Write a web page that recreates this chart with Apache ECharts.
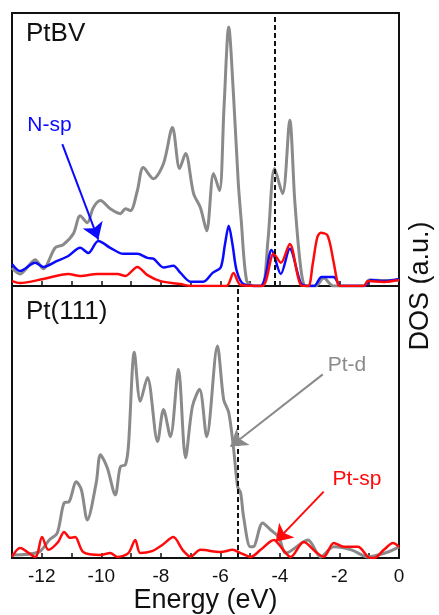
<!DOCTYPE html>
<html>
<head>
<meta charset="utf-8">
<script src="https://cdn.jsdelivr.net/npm/echarts@6/dist/echarts.min.js"></script>
<style>
  html, body { margin: 0; padding: 0; background: #fff; }
  #main { width: 439px; height: 615px; }
</style>
</head>
<body>
<div id="main"></div>
<script>
// PtBV panel: Pt-d (gray), N-sp (blue), Pt-sp (red)
var ptbvDE = [-13, -12.73, -12.22, -11.95, -11.55, -11.28, -10.94, -10.71, -10.47, -10.27, -10.03, -9.7, -9.36, -9.19, -9.02, -8.79, -8.59, -8.25, -7.91, -7.61, -7.37, -7.17, -6.9, -6.67, -6.46, -6.23, -6.03, -5.88, -5.72, -5.56, -5.4, -5.3, -5.12, -4.9, -4.6, -4.4, -4.18, -3.91, -3.67, -3.5, -3.3, -3.13, -2.8, -2.53, -2.2, -1.2, -1.0, -0.5, 0];
var ptbvD = [6.6, 4.4, 9.6, 6.3, 14.0, 15.1, 19.1, 25.7, 23.2, 28.7, 31.3, 28.3, 26.5, 28.3, 27.6, 34.9, 43.4, 39.3, 44.9, 58.1, 43.0, 48.5, 33.8, 28.7, 20.2, 41.2, 34.9, 65, 94.9, 70, 38, 24, 2, 0, 0, 17, 43.0, 33.8, 60.7, 31, 6.6, 0, 0, 2.9, 0, 0, 2.2, 2, 2.2];

var ptbvNE = [-13, -12.73, -12.22, -11.95, -11.48, -11.11, -10.71, -10.44, -10.1, -9.7, -9.26, -8.79, -8.45, -8.25, -7.91, -7.58, -7.34, -7.0, -6.57, -6.26, -5.99, -5.85, -5.72, -5.59, -5.45, -5.22, -4.65, -4.5, -4.28, -3.97, -3.67, -3.3, -3.1, -2.85, -2.6, -2.2, -1.95, -1.18, -0.94, -0.5, 0];
var ptbvN = [8.1, 5.5, 8.5, 7.0, 9.2, 11.0, 14.0, 12.1, 16.5, 14.0, 11.8, 11.8, 10.3, 10, 6.8, 7.4, 4.8, 1.6, 1.6, 4.8, 6.8, 15, 22.1, 15, 5.5, 0.7, 0, 3, 13.2, 4.4, 13.6, 1.1, 0, 0, 3.3, 3.3, 0, 0, 2.2, 1.8, 2.6];

var ptbvSE = [-13, -12.73, -11.95, -11.11, -10.71, -10.13, -9.46, -9.19, -8.79, -8.45, -8.01, -7.34, -7.0, -5.8, -5.56, -5.32, -4.6, -4.21, -3.97, -3.67, -3.3, -3.05, -2.9, -2.75, -2.63, -2.4, -2.2, -2.05, -1.95, -1.18, -1.04, -0.5, 0];
var ptbvS = [1.8, 1.1, 2.6, 4.4, 3.7, 4.4, 4.4, 3.7, 7.0, 4.0, 1.8, 0.7, 0, 0, 4.8, 0.4, 0, 11.8, 8.5, 15.4, 0.4, 0, 8, 17.6, 19.5, 18.5, 9, 0.7, 0, 0, 1.8, 1.5, 2.2];

// Pt(111) panel: Pt-d (gray), Pt-sp (red)
var ptDE = [-13, -12.1, -11.75, -11.48, -11.25, -11.08, -10.84, -10.67, -10.47, -10.17, -10.03, -9.8, -9.53, -9.36, -9.19, -9.09, -8.89, -8.69, -8.45, -8.11, -7.91, -7.68, -7.41, -7.17, -6.94, -6.7, -6.46, -6.1, -5.89, -5.72, -5.56, -5.42, -5.32, -5.22, -5.0, -4.9, -4.58, -4.31, -4.04, -3.8, -3.06, -2.63, -2.19, -1.6, -1.04, -0.37, 0];
var ptD = [1.1, 2.2, 6.6, 9.2, 20.3, 20.7, 28.0, 25.1, 14.0, 27.7, 38.0, 33.2, 23.2, 33.6, 34.3, 41.0, 75.6, 57.6, 66.4, 42.8, 54.6, 44.6, 69.4, 36.9, 55.7, 62.0, 44.6, 77.9, 58.3, 53.5, 40.6, 26.2, 24.0, 15.1, 4.1, 4.1, 12.9, 10.3, 7.7, 1.8, 6.6, 0.4, 4.1, 3.0, 0.4, 2.2, 4.1];

var ptSE = [-13, -12.73, -12.22, -11.99, -11.78, -11.45, -11.25, -11.05, -10.88, -10.61, -10.03, -9.7, -9.46, -9.09, -8.86, -8.69, -8.3, -7.95, -7.58, -7.27, -7.0, -6.67, -5.99, -5.59, -5.32, -4.98, -4.65, -4.2, -3.97, -3.64, -3.2, -2.79, -2.53, -2.19, -1.85, -1.38, -1.04, -0.84, -0.51, -0.2, 0];
var ptS = [0.4, 3.7, 0.4, 7.7, 3.0, 5.9, 9.6, 7.4, 7.7, 2.2, 1.1, 1.8, 0.4, 1.8, 6.6, 1.8, 2.5, 4.8, 7.7, 3.0, 0.5, 3.0, 2.2, 3.0, 1.8, 0.4, 3.0, 6.6, 4.1, 0.4, 5.9, 2.2, 0.4, 5.5, 4.1, 4.1, 0.4, 0, 3.0, 5.5, 4.1];

// d-band centres (dashed lines)
var dCenters = [-4.17, -5.42];

var GRAY = '#8a8a8a', BLUE = '#0a0aff', RED = '#ff0a0a';

function pairs(xs, ys) {
  return xs.map(function (x, i) { return [x, ys[i]]; });
}

// 箭头 + 文字标注
function arrow(from, to, color) {
  return [
    { coord: from, symbol: 'none', lineStyle: { color: color, width: 2, type: 'solid' } },
    { coord: to, symbol: 'arrow', symbolSize: 16 }
  ];
}
function tag(text, at, color) {
  return {
    coord: at, value: text, symbol: 'circle', symbolSize: 1,
    itemStyle: { color: 'rgba(0,0,0,0)' },
    label: { show: true, formatter: text, color: color, fontSize: 21, position: 'inside' }
  };
}
function dashed(x) {
  return { xAxis: x, lineStyle: { color: '#111', width: 2, type: [5, 3] } };
}

function line(name, idx, data, color, width, extra) {
  var s = {
    name: name, type: 'line', xAxisIndex: idx, yAxisIndex: idx,
    data: data, showSymbol: false, smooth: 0.3,
    lineStyle: { color: color, width: width }, itemStyle: { color: color }
  };
  for (var k in extra) s[k] = extra[k];
  return s;
}
function marks(items) {
  return { silent: true, symbol: ['none', 'none'], label: { show: false }, data: items };
}

var xAxisBase = {
  type: 'value', min: -13, max: 0, interval: 1,
  axisLine: { show: false },
  splitLine: { show: false },
  axisTick: { show: true, inside: true, length: 5, lineStyle: { color: '#111', width: 1.5 } }
};

var myChart = echarts.init(document.getElementById('main'));
var option = {
  animation: false,
  textStyle: { fontFamily: 'Liberation Sans, Arial, sans-serif' },
  title: [
    { text: 'PtBV', left: 26, top: 21, padding: 0,
      textStyle: { fontSize: 26, fontWeight: 'normal', color: '#111' } },
    { text: 'Pt(111)', left: 26, top: 299, padding: 0,
      textStyle: { fontSize: 26, fontWeight: 'normal', color: '#111' } }
  ],
  grid: [
    { left: 12, right: 40, top: 13, height: 273, show: true, borderColor: '#111', borderWidth: 2 },
    { left: 12, right: 40, top: 286, height: 272, show: true, borderColor: '#111', borderWidth: 2 }
  ],
  xAxis: [
    Object.assign({}, xAxisBase, { gridIndex: 0, axisLabel: { show: false } }),
    Object.assign({}, xAxisBase, {
      gridIndex: 1,
      name: 'Energy (eV)', nameLocation: 'middle', nameGap: 26,
      nameTextStyle: { fontSize: 27, color: '#111' },
      axisLabel: {
        fontSize: 19, color: '#111', margin: 9,
        formatter: function (v) { return v % 2 === 0 ? String(v) : ''; }
      }
    })
  ],
  yAxis: [
    { type: 'value', gridIndex: 0, min: 0, max: 100, show: false },
    { type: 'value', gridIndex: 1, min: 0, max: 100, show: false }
  ],
  graphic: [
    { type: 'text', x: 421, y: 286, rotation: Math.PI / 2,
      style: { text: 'DOS (a.u.)', fontSize: 27, fill: '#111', align: 'center', verticalAlign: 'middle',
        fontFamily: 'Liberation Sans, Arial, sans-serif' } }
  ],
  series: [
    line('PtBV Pt-d', 0, pairs(ptbvDE, ptbvD), GRAY, 3, {
      markLine: marks([dashed(dCenters[0])])
    }),
    line('N-sp', 0, pairs(ptbvNE, ptbvN), BLUE, 2.5, {
      markLine: marks([arrow([-11.31, 52], [-10.1, 17], BLUE)]),
      markPoint: { silent: true, data: [tag('N-sp', [-11.74, 59], BLUE)] }
    }),
    line('PtBV Pt-sp', 0, pairs(ptbvSE, ptbvS), RED, 2.5, {}),
    line('Pt-d', 1, pairs(ptDE, ptD), GRAY, 3, {
      markLine: marks([dashed(dCenters[1]), arrow([-2.56, 67.5], [-5.66, 41], GRAY)]),
      markPoint: { silent: true, data: [tag('Pt-d', [-1.75, 71], GRAY)] }
    }),
    line('Pt-sp', 1, pairs(ptSE, ptS), RED, 2.5, {
      markLine: marks([arrow([-2.53, 24.4], [-4.14, 6], RED)]),
      markPoint: { silent: true, data: [tag('Pt-sp', [-1.41, 29], RED)] }
    })
  ]
};
myChart.setOption(option);
</script>
</body>
</html>
